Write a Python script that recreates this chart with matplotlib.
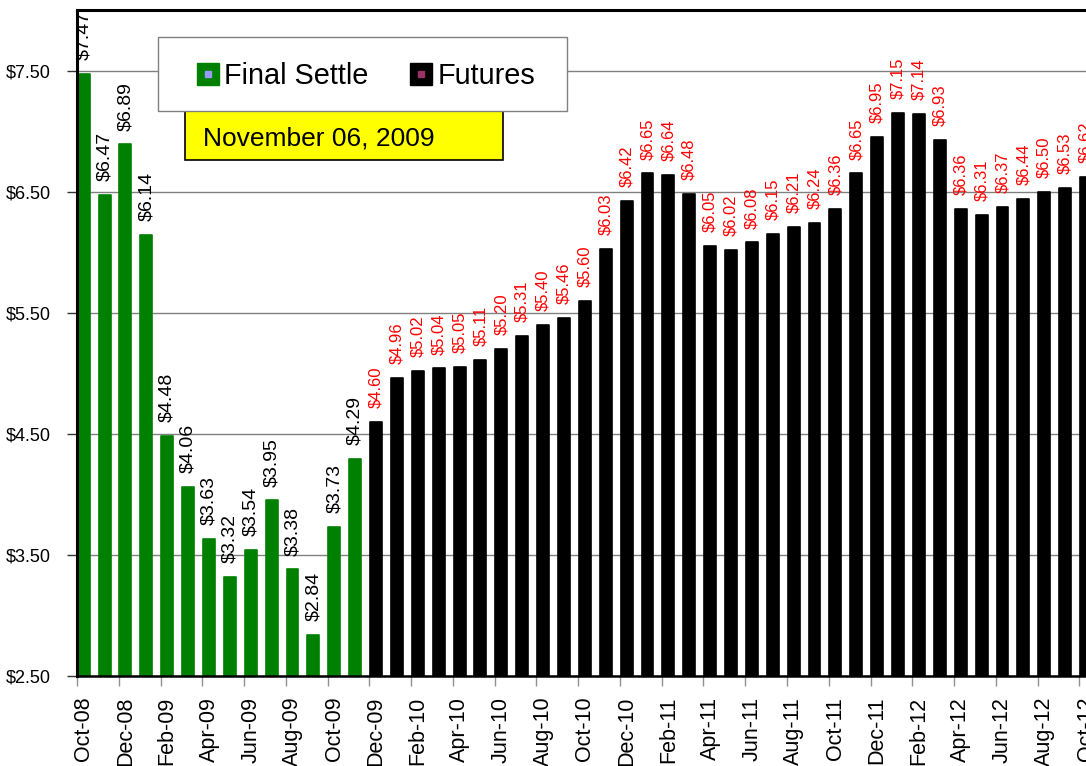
import matplotlib.pyplot as plt
from matplotlib.lines import Line2D
from matplotlib.patches import Rectangle

months = ['Oct-08', 'Nov-08', 'Dec-08', 'Jan-09', 'Feb-09', 'Mar-09', 'Apr-09',
          'May-09', 'Jun-09', 'Jul-09', 'Aug-09', 'Sep-09', 'Oct-09', 'Nov-09',
          'Dec-09', 'Jan-10', 'Feb-10', 'Mar-10', 'Apr-10', 'May-10', 'Jun-10',
          'Jul-10', 'Aug-10', 'Sep-10', 'Oct-10', 'Nov-10', 'Dec-10', 'Jan-11',
          'Feb-11', 'Mar-11', 'Apr-11', 'May-11', 'Jun-11', 'Jul-11', 'Aug-11',
          'Sep-11', 'Oct-11', 'Nov-11', 'Dec-11', 'Jan-12', 'Feb-12', 'Mar-12',
          'Apr-12', 'May-12', 'Jun-12', 'Jul-12', 'Aug-12', 'Sep-12', 'Oct-12']
settle = [7.47, 6.47, 6.89, 6.14, 4.48, 4.06, 3.63, 3.32, 3.54, 3.95, 3.38,
          2.84, 3.73, 4.29]
futures = [4.60, 4.96, 5.02, 5.04, 5.05, 5.11, 5.20, 5.31, 5.40, 5.46, 5.60,
           6.03, 6.42, 6.65, 6.64, 6.48, 6.05, 6.02, 6.08, 6.15, 6.21, 6.24,
           6.36, 6.65, 6.95, 7.15, 7.14, 6.93, 6.36, 6.31, 6.37, 6.44, 6.50,
           6.53, 6.62]
date_text = 'November 06, 2009'

plt.rcParams['font.family'] = ['Liberation Sans', 'DejaVu Sans']

GREEN = '#008000'

fig = plt.figure(figsize=(10.86, 7.66), dpi=100)
ax = fig.add_axes([77 / 1086, 90 / 766, 1009 / 1086, 666 / 766])

xs = list(range(len(months)))
x_settle = xs[:len(settle)]
x_fut = xs[len(settle):]

ax.bar(x_settle, settle, width=0.57, color=GREEN, edgecolor=GREEN,
       linewidth=1.2, joinstyle='round', zorder=2)
ax.bar(x_fut, futures, width=0.57, color='black', edgecolor='black',
       linewidth=1.2, joinstyle='round', zorder=2)

for x, v in zip(x_settle, settle):
    ax.annotate(f'${v:.2f}', (x, v), xytext=(0, 10), textcoords='offset points',
                rotation=90, ha='center', va='bottom', fontsize=14,
                color='black', clip_on=True, zorder=3)
for x, v in zip(x_fut, futures):
    ax.annotate(f'${v:.2f}', (x, v), xytext=(0, 10), textcoords='offset points',
                rotation=90, ha='center', va='bottom', fontsize=12,
                color='red', clip_on=True, zorder=3)

ax.set_xlim(-0.32, -0.32 + 1009 / 20.9)
ax.set_ylim(2.5, 8.0)

yt = [2.5, 3.5, 4.5, 5.5, 6.5, 7.5]
ax.set_yticks(yt)
ax.set_yticklabels([f'${t:.2f}' for t in yt], fontsize=13)
ax.yaxis.grid(True, color='#808080', linewidth=1.0, zorder=0)
ax.set_axisbelow(True)
ax.tick_params(axis='y', length=7, width=1, color='#333333', pad=12)

ax.set_xticks(xs[::2])
ax.set_xticklabels(months[::2], rotation=90, fontsize=15.5)
ax.tick_params(axis='x', which='major', length=0, pad=15)
ax.set_xticks([x - 0.32 for x in xs[::2]], minor=True)
ax.tick_params(axis='x', which='minor', length=7, width=1, color='#909090')

for side in ['left', 'top']:
    ax.spines[side].set_linewidth(2.2)
ax.spines['bottom'].set_linewidth(1.8)
ax.spines['right'].set_visible(False)

# date box, partly hidden behind the legend
ax.add_patch(Rectangle((0.107, 0.775), 0.315, 0.09, transform=ax.transAxes,
                       facecolor='yellow', edgecolor='black', linewidth=1.2,
                       zorder=4))
ax.text(0.125, 0.807, date_text, transform=ax.transAxes, fontsize=19,
        va='center', ha='left', zorder=4.5)

# legend frame drawn by hand so the padding can match
ax.add_patch(Rectangle((0.080, 0.848), 0.406, 0.111, transform=ax.transAxes,
                       facecolor='white', edgecolor='#808080', linewidth=1.0,
                       zorder=5))

h_settle = (Line2D([], [], ls='none', marker='s', markersize=15.5,
                   markerfacecolor=GREEN, markeredgecolor=GREEN),
            Line2D([], [], ls='none', marker='s', markersize=4.5,
                   markerfacecolor='#9999ff', markeredgecolor='#9999ff'))
h_fut = (Line2D([], [], ls='none', marker='s', markersize=15.5,
                markerfacecolor='black', markeredgecolor='black'),
         Line2D([], [], ls='none', marker='s', markersize=4.5,
                markerfacecolor='#993366', markeredgecolor='#993366'))
leg = ax.legend([h_settle, h_fut], ['Final Settle', 'Futures'], ncol=2,
                loc='center', bbox_to_anchor=(0.286, 0.901), fontsize=20.8,
                frameon=False, handlelength=0.8, handletextpad=0.15,
                columnspacing=1.45, borderpad=0, borderaxespad=0)
leg.set_zorder(6)

fig.savefig('out.png', dpi=100)
